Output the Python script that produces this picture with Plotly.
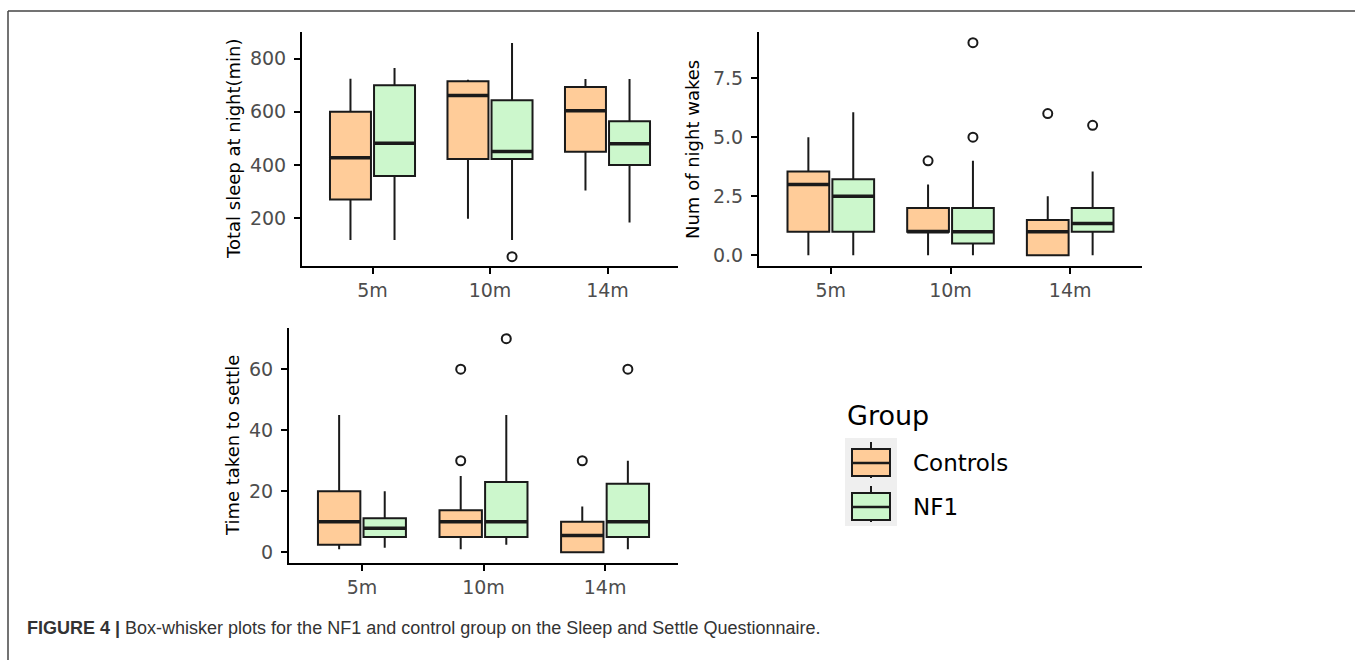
import plotly.graph_objects as go

W, H = 1355, 660

months = ["5m", "10m", "14m"]
groups = ["Controls", "NF1"]
fills = {"Controls": "#FFCC99", "NF1": "#CCF7CC"}

# Total sleep at night (min)
sleep_low = {"Controls": [118, 198, 304], "NF1": [118, 118, 184]}
sleep_q1 = {"Controls": [270, 422, 450], "NF1": [358, 422, 400]}
sleep_med = {"Controls": [427, 661, 604], "NF1": [482, 451, 480]}
sleep_q3 = {"Controls": [600, 715, 693], "NF1": [700, 643, 564]}
sleep_up = {"Controls": [724, 720, 723], "NF1": [765, 859, 723]}
sleep_out_x = {"Controls": [], "NF1": ["10m"]}
sleep_out_y = {"Controls": [], "NF1": [55]}

# Num of night wakes
wake_low = {"Controls": [0, 0, 0], "NF1": [0, 0, 0]}
wake_q1 = {"Controls": [1, 1, 0], "NF1": [1, 0.5, 1]}
wake_med = {"Controls": [3, 1, 1], "NF1": [2.5, 1, 1.35]}
wake_q3 = {"Controls": [3.55, 2, 1.5], "NF1": [3.22, 2, 2]}
wake_up = {"Controls": [5, 3, 2.5], "NF1": [6.05, 4, 3.55]}
wake_out_x = {"Controls": ["10m", "14m"], "NF1": ["10m", "10m", "14m"]}
wake_out_y = {"Controls": [4, 6], "NF1": [5, 9, 5.5]}

# Time taken to settle
settle_low = {"Controls": [1, 1, 0], "NF1": [1.5, 2.5, 1]}
settle_q1 = {"Controls": [2.5, 5, 0], "NF1": [5, 5, 5]}
settle_med = {"Controls": [10, 10, 5.5], "NF1": [7.9, 10, 10]}
settle_q3 = {"Controls": [20, 13.75, 10], "NF1": [11.2, 23, 22.5]}
settle_up = {"Controls": [45, 25, 15], "NF1": [20, 45, 30]}
settle_out_x = {"Controls": ["10m", "10m", "14m"], "NF1": ["10m", "14m"]}
settle_out_y = {"Controls": [30, 60, 30], "NF1": [70, 60]}

sleep_ticks = [200, 400, 600, 800]
wake_ticks = [0, 2.5, 5, 7.5]
settle_ticks = [0, 20, 40, 60]

panels = [
    ("x", "y", sleep_low, sleep_q1, sleep_med, sleep_q3, sleep_up, sleep_out_x, sleep_out_y),
    ("x2", "y2", wake_low, wake_q1, wake_med, wake_q3, wake_up, wake_out_x, wake_out_y),
    ("x3", "y3", settle_low, settle_q1, settle_med, settle_q3, settle_up, settle_out_x, settle_out_y),
]

INK = "#1a1a1a"


def px(x):
    return x / W


def py(y):
    return 1 - y / H


fig = go.Figure()
for xa, ya, lo, q1, me, q3, up, ox, oy in panels:
    for g in groups:
        fig.add_trace(go.Box(
            x=months, q1=q1[g], median=me[g], q3=q3[g],
            lowerfence=lo[g], upperfence=up[g],
            name=g, legendgroup=g, offsetgroup=g,
            fillcolor=fills[g], line=dict(color=INK, width=2),
            whiskerwidth=0, boxpoints=False, showlegend=False,
            xaxis=xa, yaxis=ya, hoverinfo="skip",
        ))
        # thicker median bar (ggplot style), overlaid in the same slot
        fig.add_trace(go.Box(
            x=months, q1=me[g], median=me[g], q3=me[g],
            lowerfence=me[g], upperfence=me[g],
            name=g, legendgroup=g, offsetgroup=g,
            fillcolor="rgba(0,0,0,0)", line=dict(color=INK, width=3.5),
            whiskerwidth=0, boxpoints=False, showlegend=False,
            xaxis=xa, yaxis=ya, hoverinfo="skip",
        ))
    for g in groups:
        fig.add_trace(go.Scatter(
            x=ox[g] if ox[g] else [None], y=oy[g] if oy[g] else [None],
            mode="markers", name=g, offsetgroup=g, showlegend=False,
            marker=dict(symbol="circle-open", size=9, color=INK,
                        line=dict(width=2, color=INK)),
            xaxis=xa, yaxis=ya, hoverinfo="skip",
        ))

TICKFONT = dict(family="DejaVu Sans", size=19, color="#4D4D4D")
axis_common = dict(showline=True, linecolor="black", linewidth=2,
                   ticks="outside", ticklen=6, tickwidth=1.5, tickcolor="black",
                   showgrid=False, zeroline=False, tickfont=TICKFONT)

xcat = dict(axis_common, type="category", categoryorder="array",
            categoryarray=months, range=[-0.6, 2.6], ticklabelstandoff=0)

fig.update_layout(
    width=W, height=H,
    margin=dict(l=0, r=0, t=0, b=0),
    paper_bgcolor="white", plot_bgcolor="white",
    boxmode="group", boxgap=0.25, boxgroupgap=0.07,
    scattermode="group", scattergap=0.25,
    showlegend=False,
    xaxis=dict(xcat, domain=[px(302), px(678)], anchor="y"),
    yaxis=dict(axis_common, domain=[py(266), py(32)], anchor="x",
               range=[20, 900], tickvals=sleep_ticks, ticklabelstandoff=4),
    xaxis2=dict(xcat, domain=[px(759), px(1142)], anchor="y2"),
    yaxis2=dict(axis_common, domain=[py(266), py(32)], anchor="x2",
                range=[-0.45, 9.45], tickvals=wake_ticks, tickformat=".1f",
                ticklabelstandoff=4),
    xaxis3=dict(xcat, domain=[px(289), px(678)], anchor="y3"),
    yaxis3=dict(axis_common, domain=[py(563), py(328)], anchor="x3",
                range=[-3.5, 73.5], tickvals=settle_ticks, ticklabelstandoff=4),
)

title_font = dict(family="DejaVu Sans", size=18, color="black")
annotations = [
    dict(text="Total sleep at night(min)", x=px(233), y=py(149), textangle=-90),
    dict(text="Num of night wakes", x=px(692), y=py(150), textangle=-90),
    dict(text="Time taken to settle", x=px(232), y=py(446), textangle=-90),
]
for a in annotations:
    a.update(xref="paper", yref="paper", showarrow=False, xanchor="center",
             yanchor="middle", font=title_font)

# legend (drawn manually in ggplot style)
annotations.append(dict(text="Group", x=px(845), y=py(416), xref="paper", yref="paper",
                        showarrow=False, xanchor="left", yanchor="middle",
                        font=dict(family="DejaVu Sans", size=27, color="black")))
shapes = []
shapes.append(dict(type="rect", xref="paper", yref="paper", x0=px(845), x1=px(897),
                   y0=py(526), y1=py(438), fillcolor="#EFEFEF", line=dict(width=0), layer="below"))
for i, g in enumerate(groups):
    top = 438 + 44 * i
    cx = 871
    shapes.append(dict(type="line", xref="paper", yref="paper", x0=px(cx), x1=px(cx),
                       y0=py(top + 4), y1=py(top + 40), line=dict(color=INK, width=2)))
    shapes.append(dict(type="rect", xref="paper", yref="paper", x0=px(852), x1=px(890),
                       y0=py(top + 38), y1=py(top + 11), fillcolor=fills[g],
                       line=dict(color=INK, width=2)))
    shapes.append(dict(type="line", xref="paper", yref="paper", x0=px(852), x1=px(890),
                       y0=py(top + 25), y1=py(top + 25), line=dict(color=INK, width=2.5)))
    annotations.append(dict(text=g, x=px(911), y=py(top + 25), xref="paper", yref="paper",
                            showarrow=False, xanchor="left", yanchor="middle",
                            font=dict(family="DejaVu Sans", size=23, color="black")))

# figure frame
shapes.append(dict(type="line", xref="paper", yref="paper", x0=px(8), x1=1,
                   y0=py(11), y1=py(11), line=dict(color="#444444", width=1.5)))
shapes.append(dict(type="line", xref="paper", yref="paper", x0=px(8), x1=px(8),
                   y0=py(11), y1=0, line=dict(color="#444444", width=1.5)))

annotations.append(dict(
    text="<b>FIGURE 4 |</b> Box-whisker plots for the NF1 and control group on the Sleep and Settle Questionnaire.",
    x=px(25), y=py(628), xref="paper", yref="paper", showarrow=False,
    xanchor="left", yanchor="middle",
    font=dict(family="Liberation Sans", size=18, color="#333333")))

fig.update_layout(annotations=annotations, shapes=shapes)
fig.write_html("out.html")
